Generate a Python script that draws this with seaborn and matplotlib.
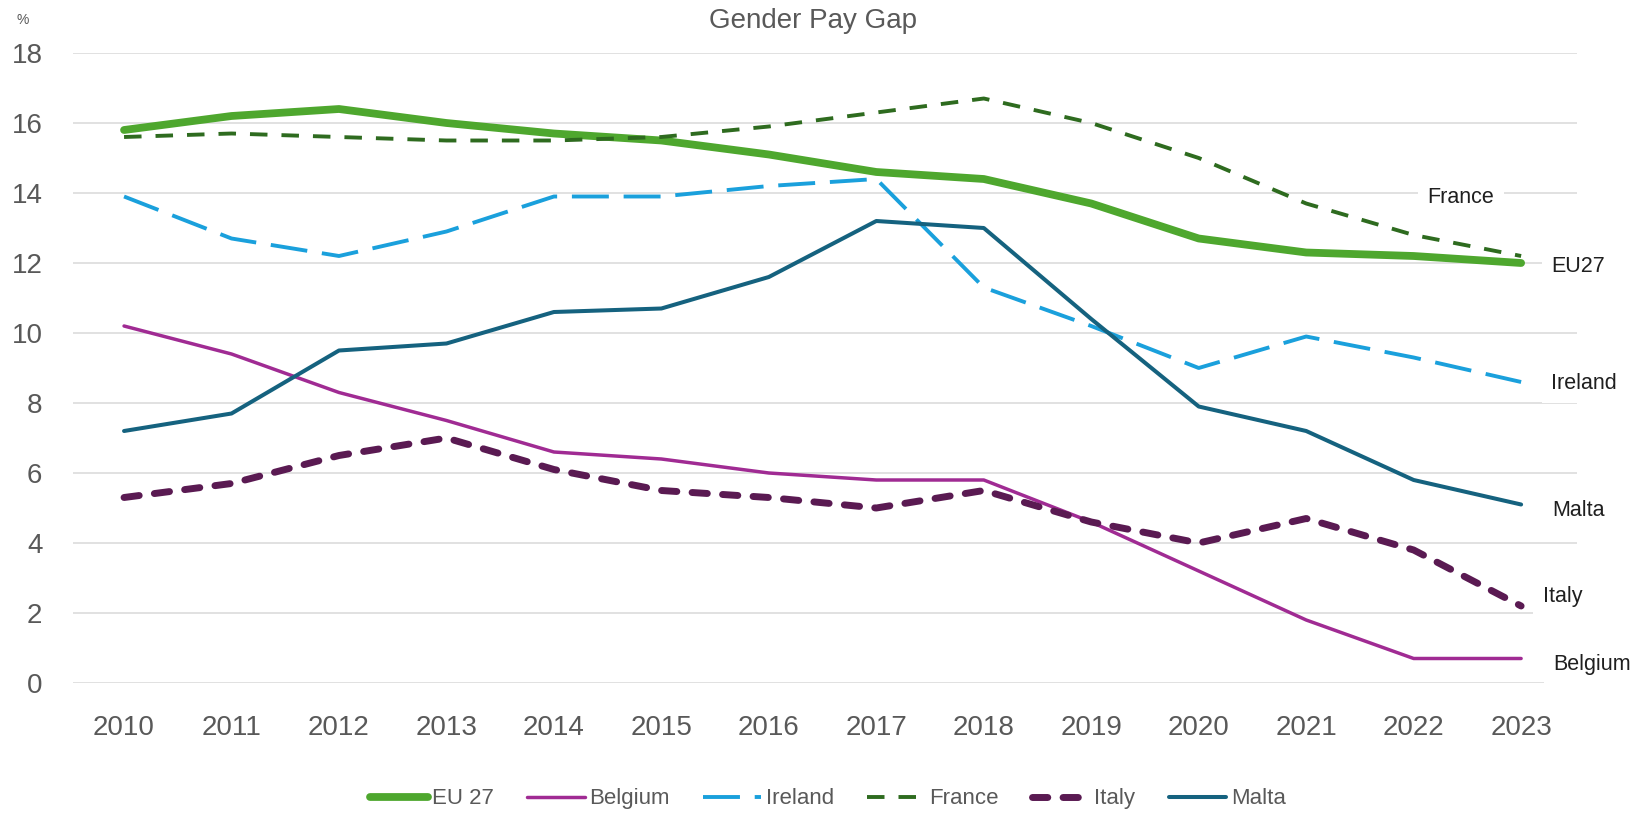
import numpy as np
import pandas as pd
import matplotlib
matplotlib.use("Agg")
import matplotlib.pyplot as plt
import seaborn as sns

# ===============================
# Data
# ===============================
years = list(range(2010, 2024))
eu27 = [15.8, 16.2, 16.4, 16.0, 15.7, 15.5, 15.1, 14.6, 14.4, 13.7, 12.7, 12.3, 12.2, 12.0]
belgium = [10.2, 9.4, 8.3, 7.5, 6.6, 6.4, 6.0, 5.8, 5.8, 4.6, 3.2, 1.8, 0.7, 0.7]
ireland = [13.9, 12.7, 12.2, 12.9, 13.9, 13.9, 14.2, 14.4, 11.3, 10.2, 9.0, 9.9, 9.3, 8.6]
france = [15.6, 15.7, 15.6, 15.5, 15.5, 15.6, 15.9, 16.3, 16.7, 16.0, 15.0, 13.7, 12.8, 12.2]
italy = [5.3, 5.7, 6.5, 7.0, 6.1, 5.5, 5.3, 5.0, 5.5, 4.6, 4.0, 4.7, 3.8, 2.2]
malta = [7.2, 7.7, 9.5, 9.7, 10.6, 10.7, 11.6, 13.2, 13.0, 10.4, 7.9, 7.2, 5.8, 5.1]

legend_names = ["EU 27", "Belgium", "Ireland", "France", "Italy", "Malta"]

# ===============================
# Styles
# ===============================
styles = {
    "EU 27": dict(color="#4EA72E", lw=5.6, ls="-", cap="round"),
    "Belgium": dict(color="#A02B93", lw=2.5, ls="-", cap="round"),
    "Ireland": dict(color="#1AA0DC", lw=2.8, ls=(0, (9.5, 3.8)), cap="butt"),
    "France": dict(color="#2E6B1F", lw=2.8, ls=(0, (4.5, 3.6)), cap="butt"),
    "Italy": dict(color="#5A1A52", lw=5.0, ls=(0, (2.2, 2.2)), cap="round"),
    "Malta": dict(color="#15627F", lw=2.9, ls="-", cap="round"),
}

# end-of-line labels (data coords)
label_pos = {
    "France": (2022.13, 13.86),
    "EU27": (2023.28, 11.89),
    "Ireland": (2023.28, 8.57),
    "Malta": (2023.29, 4.94),
    "Italy": (2023.2, 2.46),
    "Belgium": (2023.3, 0.52),
}

series = [eu27, belgium, ireland, france, italy, malta]
df = pd.DataFrame({"year": np.tile(years, len(series)),
                   "value": np.concatenate(series),
                   "series": np.repeat(legend_names, len(years))})

sns.set_theme(style="white")
plt.rcParams["font.family"] = ["Liberation Sans", "DejaVu Sans"]

fig = plt.figure(figsize=(16.49, 8.16), dpi=100)
ax = fig.add_axes([73 / 1649, 133 / 816, 1504 / 1649, 630 / 816])

handles = []
for name in legend_names:
    st = styles[name]
    sub = df[df["series"] == name]
    sns.lineplot(data=sub, x="year", y="value", ax=ax, color=st["color"],
                 linewidth=st["lw"], linestyle=st["ls"], legend=False)
    line = ax.lines[-1]
    line.set_dash_capstyle(st["cap"])
    line.set_solid_capstyle("round")
    handles.append(line)

ax.set_xlim(2009.525, 2023.52)
ax.set_ylim(0, 18)
ax.set_yticks(range(0, 19, 2))
ax.set_xticks(years)
ax.grid(axis="y", color="#D9D9D9", linewidth=1.1)
ax.grid(axis="x", visible=False)
for s in ax.spines.values():
    s.set_visible(False)
ax.tick_params(axis="both", length=0, labelsize=20, labelcolor="#595959")
ax.tick_params(axis="x", pad=23)
ax.tick_params(axis="y", pad=22)
ax.set_xlabel("")
ax.set_ylabel("")

for lab, (x, y) in label_pos.items():
    ax.text(x, y, lab, fontsize=15.5, color="#1F1F1F", va="center", ha="left",
            clip_on=False, bbox=dict(facecolor="white", edgecolor="none", pad=7))

fig.text(0.493, 0.9657, "Gender Pay Gap", fontsize=20, color="#595959",
         ha="center", va="baseline")
fig.text(0.014, 0.975, "%", fontsize=10, color="#595959", ha="center", va="center")

leg = fig.legend(handles, legend_names, loc="center", bbox_to_anchor=(0.502, 0.021),
                 ncol=6, frameon=False, handlelength=2.6,
                 columnspacing=1.5, handletextpad=0.2,
                 prop={"family": ["Liberation Sans", "DejaVu Sans"], "size": 16})
for t in leg.get_texts():
    t.set_color("#595959")

fig.savefig("out.png", dpi=100)
